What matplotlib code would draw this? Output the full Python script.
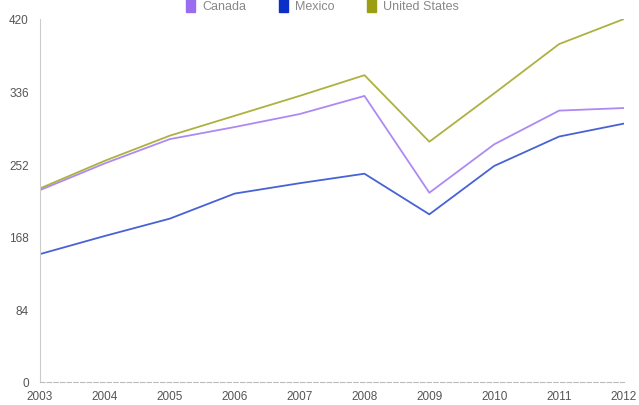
import matplotlib.pyplot as plt
from matplotlib.patches import Patch

years = [2003, 2004, 2005, 2006, 2007, 2008, 2009, 2010, 2011, 2012]
canada = [222, 253, 281, 295, 310, 331, 219, 275, 314, 317]
mexico = [148, 169, 189, 218, 230, 241, 194, 250, 284, 299]
united_states = [224, 256, 285, 308, 331, 355, 278, 334, 391, 420]
y_ticks = [0, 84, 168, 252, 336, 420]

colors = {"Canada": "#9a6cf0", "Mexico": "#0a2ec8", "United States": "#9a9e10"}

plt.rcParams['font.family'] = ['Liberation Sans', 'DejaVu Sans']

fig = plt.figure(figsize=(6.39, 4.06), dpi=100)
ax = fig.add_axes([40 / 639, 23 / 406, 584 / 639, 363 / 406])

ax.plot(years, canada, color=colors["Canada"], lw=1.3, alpha=0.8)
ax.plot(years, mexico, color=colors["Mexico"], lw=1.3, alpha=0.75)
ax.plot(years, united_states, color=colors["United States"], lw=1.3, alpha=0.8)

ax.set_xlim(2003, 2012)
ax.set_ylim(0, 420)
ax.set_xticks(years)
ax.set_xticklabels([str(y) for y in years])
ax.set_yticks(y_ticks)
ax.set_yticklabels([str(v) for v in y_ticks])
ax.tick_params(axis='both', length=0, labelsize=8.5, labelcolor='#555555')
ax.tick_params(axis='x', pad=6)
ax.tick_params(axis='y', pad=8)

for s in ['top', 'right']:
    ax.spines[s].set_visible(False)
ax.spines['left'].set_color('#cccccc')
ax.spines['bottom'].set_color('#bbbbbb')
ax.spines['bottom'].set_linestyle((0, (4, 2)))
ax.spines['left'].set_linewidth(0.8)
ax.spines['bottom'].set_linewidth(0.8)

handles = [Patch(color=colors[k]) for k in colors]
leg = fig.legend(handles, list(colors.keys()), loc='upper center', bbox_to_anchor=(0.505, 1.03),
                 ncol=3, frameon=False, fontsize=9, handlelength=0.7, handleheight=1.3,
                 handletextpad=0.6, columnspacing=2.6)
for t in leg.get_texts():
    t.set_color('#888888')

fig.savefig('out.png', dpi=100)
